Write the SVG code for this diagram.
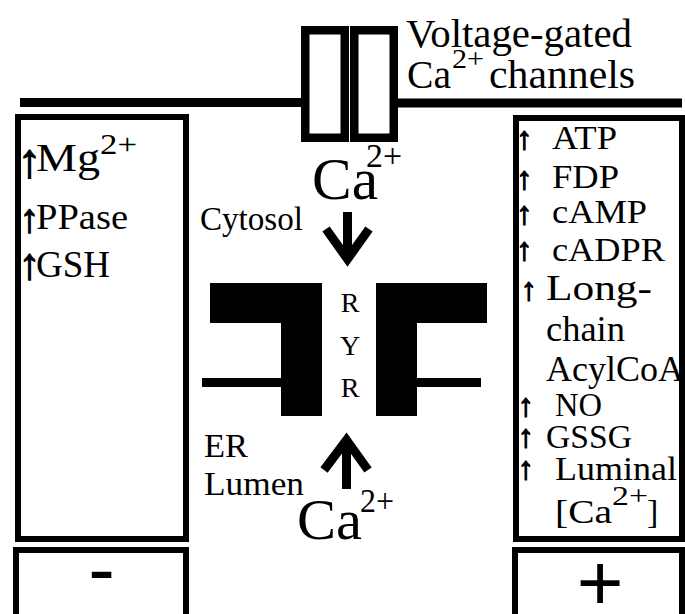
<svg xmlns="http://www.w3.org/2000/svg" width="685" height="614" viewBox="0 0 685 614">
<style>
.t{font-family:"Liberation Serif","Times New Roman",serif;fill:#000}
.ar{font-family:"Liberation Serif","DejaVu Serif",serif;fill:#000;stroke:#000;stroke-width:1.2;text-anchor:middle}
.s{font-family:"Liberation Sans",Arial,sans-serif;fill:#000;text-anchor:middle}
.box{fill:none;stroke:#000;stroke-width:6}
.ch{fill:#fff;stroke:#000;stroke-width:8.5}
.blk{fill:#000}
.arr{fill:none;stroke:#000;stroke-width:9;stroke-linejoin:miter;stroke-linecap:butt}
</style>
<rect width="685" height="614" fill="#fff"/>
<g id="membrane">
<rect class="blk" x="20" y="98" width="282" height="9"/>
<rect class="blk" x="397" y="98.5" width="285" height="9"/>
</g>
<g id="channel">
<rect class="ch" x="305.25" y="30.25" width="39.5" height="107.5"/>
<rect class="ch" x="354.25" y="30.25" width="39.5" height="107.5"/>
<text class="t" x="406" y="47" font-size="40" textLength="226" lengthAdjust="spacingAndGlyphs">Voltage-gated</text>
<text class="t" x="407" y="88" font-size="40" textLength="44" lengthAdjust="spacingAndGlyphs">Ca</text>
<text class="t" x="452" y="68" font-size="28" textLength="32" lengthAdjust="spacingAndGlyphs">2+</text>
<text class="t" x="489" y="88" font-size="40" textLength="146" lengthAdjust="spacingAndGlyphs">channels</text>
</g>
<g id="inhibitors">
<rect class="box" x="18" y="117" width="168" height="422"/>
<text class="ar" x="29.5" y="177" font-size="48">↑</text>
<text class="t" x="36" y="171" font-size="40" textLength="64" lengthAdjust="spacingAndGlyphs">Mg</text>
<text class="t" x="100" y="154" font-size="30" textLength="37" lengthAdjust="spacingAndGlyphs">2+</text>
<text class="ar" x="29.5" y="232" font-size="40">↑</text>
<text class="t" x="36" y="229" font-size="35" textLength="92" lengthAdjust="spacingAndGlyphs">PPase</text>
<text class="ar" x="29.5" y="279" font-size="44">↑</text>
<text class="t" x="36" y="277" font-size="37" textLength="74" lengthAdjust="spacingAndGlyphs">GSH</text>
</g>
<g id="activators">
<rect class="box" x="516" y="118" width="166" height="421"/>
<text class="ar" x="524.5" y="149" font-size="32">↑</text>
<text class="t" x="552" y="149" font-size="34" textLength="65" lengthAdjust="spacingAndGlyphs">ATP</text>
<text class="ar" x="524.5" y="189" font-size="32">↑</text>
<text class="t" x="552" y="188" font-size="34" textLength="67" lengthAdjust="spacingAndGlyphs">FDP</text>
<text class="ar" x="524.5" y="224" font-size="32">↑</text>
<text class="t" x="552" y="223" font-size="34" textLength="95" lengthAdjust="spacingAndGlyphs">cAMP</text>
<text class="ar" x="524.5" y="260" font-size="32">↑</text>
<text class="t" x="552" y="261" font-size="34" textLength="113" lengthAdjust="spacingAndGlyphs">cADPR</text>
<text class="ar" x="529" y="300" font-size="32">↑</text>
<text class="t" x="546" y="300" font-size="35" textLength="106" lengthAdjust="spacingAndGlyphs">Long-</text>
<text class="t" x="546" y="341" font-size="35" textLength="79" lengthAdjust="spacingAndGlyphs">chain</text>
<text class="t" x="546" y="381" font-size="35" textLength="138" lengthAdjust="spacingAndGlyphs">AcylCoA</text>
<text class="ar" x="526" y="416" font-size="32">↑</text>
<text class="t" x="555" y="416" font-size="34" textLength="47" lengthAdjust="spacingAndGlyphs">NO</text>
<text class="ar" x="526" y="447" font-size="32">↑</text>
<text class="t" x="546" y="448" font-size="34" textLength="86" lengthAdjust="spacingAndGlyphs">GSSG</text>
<text class="ar" x="526" y="479" font-size="32">↑</text>
<text class="t" x="555" y="480" font-size="34" textLength="122" lengthAdjust="spacingAndGlyphs">Luminal</text>
<text class="t" x="555" y="523" font-size="34" textLength="57" lengthAdjust="spacingAndGlyphs">[Ca</text>
<text class="t" x="612" y="505" font-size="28" textLength="36" lengthAdjust="spacingAndGlyphs">2+</text>
<text class="t" x="647" y="523" font-size="34">]</text>
</g>
<g id="minus-box">
<rect class="box" x="16" y="550" width="170" height="80"/>
<text class="s" x="101.5" y="596" font-size="80">-</text>
</g>
<g id="plus-box">
<rect class="box" x="515" y="550" width="167" height="80"/>
<text class="s" x="600" y="610" font-size="80">+</text>
</g>
<g id="ryr">
<path class="blk" d="M210,283 H322 V416 H281 V323 H210 Z"/>
<path class="blk" d="M376,283 H487 V323 H417 V416 H376 Z"/>
<rect class="blk" x="202" y="378" width="79" height="9"/>
<rect class="blk" x="417" y="378" width="64" height="9"/>
<text class="t" x="350" y="312" font-size="28" text-anchor="middle">R</text>
<text class="t" x="350" y="355" font-size="28" text-anchor="middle">Y</text>
<text class="t" x="350" y="397" font-size="28" text-anchor="middle">R</text>
</g>
<g id="ca-cytosol">
<text class="t" x="312" y="199" font-size="60" textLength="66" lengthAdjust="spacingAndGlyphs">Ca</text>
<text class="t" x="366" y="167" font-size="33" textLength="36" lengthAdjust="spacingAndGlyphs">2+</text>
</g>
<g id="ca-lumen">
<text class="t" x="297" y="539" font-size="58" textLength="65" lengthAdjust="spacingAndGlyphs">Ca</text>
<text class="t" x="360" y="512" font-size="33" textLength="34" lengthAdjust="spacingAndGlyphs">2+</text>
</g>
<g id="label-cytosol">
<text class="t" x="200" y="230" font-size="34" textLength="103" lengthAdjust="spacingAndGlyphs">Cytosol</text>
</g>
<g id="label-er">
<text class="t" x="204" y="457" font-size="34" textLength="44" lengthAdjust="spacingAndGlyphs">ER</text>
<text class="t" x="204" y="495" font-size="34" textLength="100" lengthAdjust="spacingAndGlyphs">Lumen</text>
</g>
<g id="connectors">
<line class="arr" x1="347.5" y1="212" x2="347.5" y2="258"/>
<polyline class="arr" points="326,229 347.5,259 369,229"/>
<line class="arr" x1="346.5" y1="441" x2="346.5" y2="489"/>
<polyline class="arr" points="324,470 346.5,440 368,470"/>
</g>
</svg>
